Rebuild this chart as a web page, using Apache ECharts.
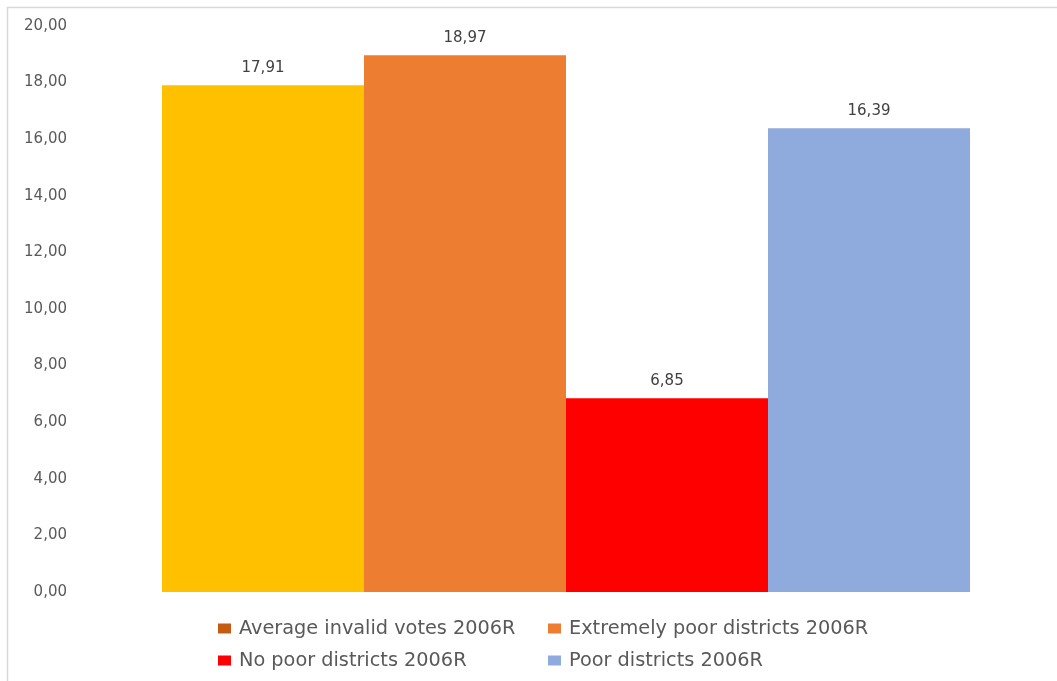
<!DOCTYPE html>
<html>
<head>
<meta charset="utf-8">
<script src="https://cdn.jsdelivr.net/npm/echarts@6/dist/echarts.min.js"></script>
<style>
  html, body { margin: 0; padding: 0; background: #fff; }
  #chart { width: 1057px; height: 681px; }
</style>
</head>
<body>
<div id="chart"></div>
<script>
// Invalid votes by district type, 2006 run-off
const categories = ['2006R'];
const seriesNames = [
  'Average invalid votes 2006R',
  'Extremely poor districts 2006R',
  'No poor districts 2006R',
  'Poor districts 2006R'
];
const seriesValues = [17.91, 18.97, 6.85, 16.39];
const barColors = ['#FFC000', '#ED7D31', '#FF0000', '#8FAADC'];
const legendColors = ['#C55A11', '#ED7D31', '#FF0000', '#8FAADC'];
const yTicks = { min: 0, max: 20, interval: 2 };

const FONT = 'DejaVu Sans';
const fmt = v => v.toFixed(2).replace('.', ',');

const chart = echarts.init(document.getElementById('chart'), null, { renderer: 'canvas' });

const series = seriesNames.map((name, i) => ({
  name,
  type: 'bar',
  barWidth: 202,
  barGap: '0%',
  itemStyle: { color: legendColors[i] },
  data: categories.map(() => ({ value: seriesValues[i], itemStyle: { color: barColors[i] } })),
  label: {
    show: true,
    position: 'top',
    distance: 10,
    color: '#404040',
    fontFamily: FONT,
    fontSize: 15,
    formatter: p => fmt(p.value)
  }
}));

// legend laid out as a 2x2 grid: [column left, row top] per series
const legendSlots = [[218, 619], [548, 619], [218, 651], [548, 651]];
const legend = seriesNames.map((name, i) => ({
  data: [name],
  left: legendSlots[i][0],
  top: legendSlots[i][1],
  padding: 0,
  itemWidth: 13, itemHeight: 10, itemGap: 0,
  icon: 'rect',
  textStyle: { color: '#595959', fontFamily: FONT, fontSize: 19.3, padding: [0, 0, 0, 3] }
}));

chart.setOption({
  animation: false,
  backgroundColor: '#fff',
  graphic: [{
    type: 'rect',
    shape: { x: 7.5, y: 7.5, width: 1100, height: 700 },
    style: { fill: 'none', stroke: '#d9d9d9', lineWidth: 1.5 },
    silent: true,
    z: -1
  }],
  grid: { left: 80, right: 5, top: 26, bottom: 89, containLabel: false },
  legend,
  xAxis: {
    type: 'category',
    data: categories,
    axisLine: { show: false },
    axisTick: { show: false },
    axisLabel: { show: false }
  },
  yAxis: {
    type: 'value',
    min: yTicks.min, max: yTicks.max, interval: yTicks.interval,
    splitLine: { show: false },
    axisLine: { show: false },
    axisTick: { show: false },
    axisLabel: {
      color: '#595959',
      fontFamily: FONT,
      fontSize: 15,
      margin: 13,
      formatter: v => fmt(v)
    }
  },
  series
});
</script>
</body>
</html>
